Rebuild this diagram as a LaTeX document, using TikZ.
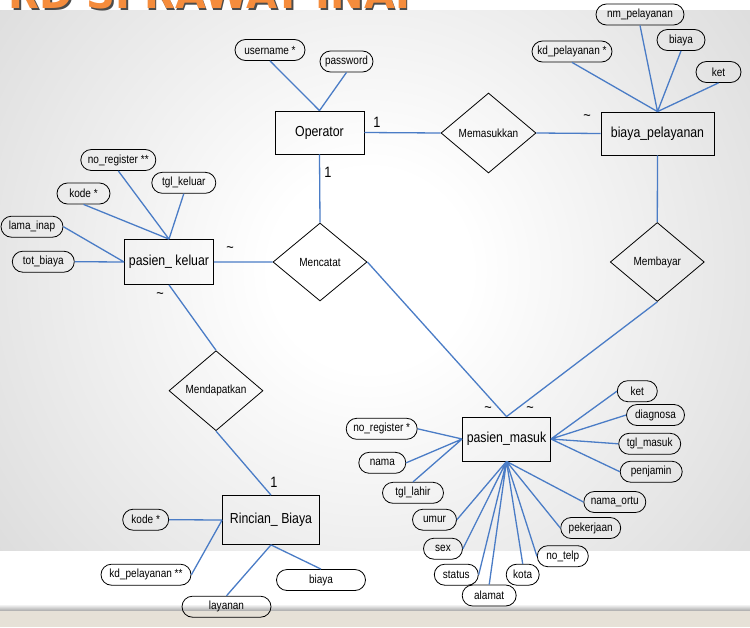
\documentclass[tikz,border=0pt]{standalone}
\usepackage{fontspec}
\setmainfont[FakeStretch=0.85]{Liberation Sans}
\newfontfamily\titlefont{DejaVu Sans}
\usetikzlibrary{shapes.geometric}
\definecolor{erdblue}{RGB}{74,124,198}
\definecolor{titleorange}{RGB}{245,140,60}
\definecolor{glowmid}{RGB}{218,218,218}
\definecolor{glowedge}{RGB}{184,184,184}
\definecolor{glowcorner}{RGB}{150,150,150}
\definecolor{footbeige}{RGB}{230,225,215}
\pgfdeclareradialshading{slideglow}{\pgfpoint{0bp}{0bp}}{color(0bp)=(white); color(5bp)=(white); color(25bp)=(glowmid); color(37bp)=(glowedge); color(50bp)=(glowcorner)}
\begin{document}
\begin{tikzpicture}[x=1pt,y=-1pt,
  attr/.style={draw, line width=0.8pt, rounded corners=10.5pt, minimum height=21pt, inner sep=0pt, font=\fontsize{11.8}{13}\selectfont},
  entity/.style={draw, line width=0.8pt, minimum height=44pt, inner sep=0pt, font=\fontsize{14.5}{16}\selectfont},
  rel/.style={draw, line width=0.8pt, diamond, minimum width=94pt, minimum height=79pt, inner sep=0pt, font=\fontsize{11.8}{13}\selectfont},
  link/.style={erdblue, line width=1.3pt},
  card/.style={inner sep=0pt, font=\fontsize{15}{16}\selectfont},
  many/.style={inner sep=0pt, font=\fontsize{15}{15}\selectfont}]
\useasboundingbox (0,0) rectangle (750,627);
\fill[white] (0,0) rectangle (750,627);
\begin{scope}
\clip (0,10) rectangle (750,550);
\shade[shading=slideglow] (-130,-230) rectangle (870,770);
\end{scope}
\shade[top color=white, bottom color=black!35] (0,604) rectangle (750,611);
\fill[footbeige] (0,611) rectangle (750,627);
\node[anchor=base east, text=black!70, font=\titlefont\bfseries\fontsize{40}{40}\selectfont] (titleshadow) at (429.5,10) {RD SI RAWAT INAP};
\node[anchor=base east, text=titleorange, font=\titlefont\bfseries\fontsize{40}{40}\selectfont] (title) at (428,8.5) {RD SI RAWAT INAP};
\node[entity, minimum width=89pt, minimum height=43pt] (op) at (319.5,132.5) {Operator};
\node[attr, minimum width=70pt] (username) at (270,50) {username *};
\node[attr, minimum width=53pt] (password) at (346.5,61.5) {password};
\node[rel, minimum width=95pt, minimum height=80pt] (mem) at (488.5,133) {Memasukkan};
\node[entity, minimum width=113pt, minimum height=43pt] (bp) at (657.5,133.5) {biaya\_pelayanan};
\node[attr, minimum width=88pt] (nmpel) at (640,14.5) {nm\_pelayanan};
\node[attr, minimum width=48pt] (bpbiaya) at (681,40) {biaya};
\node[attr, minimum width=80pt] (kdpel) at (572,51.5) {kd\_pelayanan *};
\node[attr, minimum width=45pt] (bpket) at (718.5,72) {ket};
\node[rel] (bay) at (657.3,262) {Membayar};
\node[rel, minimum height=78pt] (cat) at (320,262) {Mencatat};
\node[entity, minimum width=89pt, minimum height=45pt] (pk) at (169,262) {pasien\_ keluar};
\node[attr, minimum width=75pt] (pknoreg) at (118.3,160) {no\_register **};
\node[attr, minimum width=64pt] (tglkel) at (183.8,182.8) {tgl\_keluar};
\node[attr, minimum width=53pt] (pkkode) at (83.5,193.5) {kode *};
\node[attr, minimum width=62pt] (lama) at (32,226.7) {lama\_inap};
\node[attr, minimum width=62pt] (totb) at (43.3,261.7) {tot\_biaya};
\node[rel, minimum height=80pt] (dap) at (216,390.7) {Mendapatkan};
\node[entity, minimum width=97pt, minimum height=49pt] (rb) at (271,520) {Rincian\_ Biaya};
\node[attr, minimum width=46pt] (rbkode) at (145.7,519.7) {kode *};
\node[attr, minimum width=90pt] (rbkdpel) at (146,574.7) {kd\_pelayanan **};
\node[attr, minimum width=89pt] (layanan) at (226.5,606.7) {layanan};
\node[attr, minimum width=89pt] (rbbiaya) at (321,580) {biaya};
\node[entity, minimum width=88pt] (pm) at (506.5,439) {pasien\_masuk};
\node[attr, minimum width=71pt] (pmnoreg) at (381.7,428.8) {no\_register *};
\node[attr, minimum width=47pt] (nama) at (382.3,462.8) {nama};
\node[attr, minimum width=61pt] (tgllahir) at (413,492.8) {tgl\_lahir};
\node[attr, minimum width=44pt] (umur) at (434.5,519.7) {umur};
\node[attr, minimum width=39pt] (sex) at (443,548.7) {sex};
\node[attr, minimum width=44pt] (status) at (456.3,574.7) {status};
\node[attr, minimum width=54pt] (alamat) at (489.2,595.5) {alamat};
\node[attr, minimum width=33pt] (kota) at (522.7,574.7) {kota};
\node[attr, minimum width=51pt] (notelp) at (562.8,556.2) {no\_telp};
\node[attr, minimum width=60pt] (pekerjaan) at (590.7,528) {pekerjaan};
\node[attr, minimum width=62pt] (ortu) at (614.8,502) {nama\_ortu};
\node[attr, minimum width=40pt] (pmket) at (637.3,391.2) {ket};
\node[attr, minimum width=58pt] (diagnosa) at (655.5,415) {diagnosa};
\node[attr, minimum width=62pt] (tglmasuk) at (649.7,443.8) {tgl\_masuk};
\node[attr, minimum width=62pt] (penjamin) at (651.2,471.7) {penjamin};
\node[card] (opmem) at (377,122) {1};
\node[card] (opcat) at (328,172) {1};
\node[card] (rbdap) at (274,482) {1};
\node[many] (bpmem) at (587,118) {\textasciitilde};
\node[many] (pkcat) at (230,250) {\textasciitilde};
\node[many] (pkdap) at (160,296) {\textasciitilde};
\node[many] (pmcat) at (488,410) {\textasciitilde};
\node[many] (pmbay) at (530,410) {\textasciitilde};
\draw[link] (op.east) -- (mem.west) (mem.east) -- (bp.west);
\draw[link] (op.south) -- (cat.north) (cat.east) -- (pm.north) (pk.east) -- (cat.west);
\draw[link] (bp.south) -- (bay.north) (bay.south) -- (pm.north);
\draw[link] (pk.south) -- (dap.north) (dap.south) -- (rb.north);
\draw[link] (username.south) -- (op.north) (password.south) -- (op.north);
\draw[link] (nmpel.south) -- (bp.north) (bpbiaya.south) -- (bp.north) (kdpel.south) -- (bp.north) (bpket.south) -- (bp.north);
\draw[link] (pknoreg.south) -- (pk.north) (tglkel.south) -- (pk.north) (pkkode.south) -- (pk.north);
\draw[link] (lama.east) -- (pk.west) (totb.east) -- (pk.west);
\draw[link] (rbkode.east) -- (rb.west) (rbkdpel.east) -- (rb.west) (layanan.north) -- (rb.south) (rbbiaya.north) -- (rb.south);
\draw[link] (pmnoreg.east) -- (pm.west) (nama.east) -- (pm.west) (tgllahir.north) -- (pm.west);
\draw[link] (umur.east) -- (pm.south) (sex.east) -- (pm.south) (status.east) -- (pm.south) (alamat.north) -- (pm.south) (kota.north) -- (pm.south);
\draw[link] (notelp.west) -- (pm.south) (pekerjaan.west) -- (pm.south) (ortu.west) -- (pm.south);
\draw[link] (pmket.west) -- (pm.east) (diagnosa.west) -- (pm.east) (tglmasuk.west) -- (pm.east) (penjamin.west) -- (pm.east);
\end{tikzpicture}
\end{document}
